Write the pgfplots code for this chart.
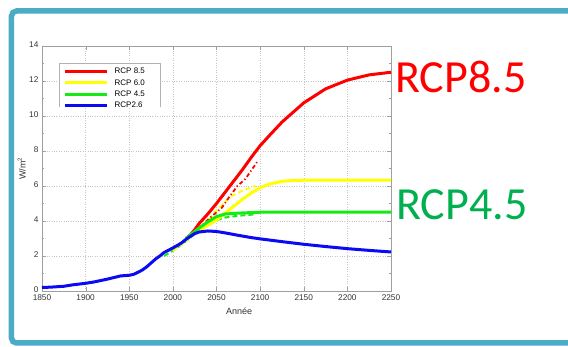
\documentclass[border=0pt]{standalone}
\usepackage{fontspec}
\setmainfont{Liberation Sans}
\newfontfamily\carlito{Carlito}
\usepackage{pgfplots}
\pgfplotsset{compat=1.18}
\definecolor{frame}{RGB}{75,172,198}
\definecolor{cred}{RGB}{255,0,0}
\definecolor{cyel}{RGB}{255,255,0}
\definecolor{cgrn}{RGB}{20,235,20}
\definecolor{cblu}{RGB}{10,10,245}
\definecolor{tgrn}{RGB}{0,176,80}
\begin{document}
\begin{tikzpicture}
\begin{axis}[
  name=main,
  scale only axis, width=349pt, height=245pt,
  xmin=1850, xmax=2250, ymin=0, ymax=14,
  xtick={1850,1900,...,2250}, ytick={0,2,...,14},
  minor y tick num=1,
  tick align=inside, major tick length=4pt, minor tick length=2.5pt,
  grid=major, major grid style={gray!45, dotted, line width=0.5pt},
  axis line style={gray!75, line width=0.6pt}, tick style={gray!75},
  tick label style={font=\fontsize{8.3}{9}\selectfont, text=black!80},
  yticklabel style={yshift=1pt},
  /pgf/number format/assume math mode=true,
  /pgf/number format/1000 sep={},
  xlabel={Année}, ylabel={W/m\textsuperscript{2}},
  label style={font=\fontsize{9}{10}\selectfont, text=black!80},
  xlabel style={at={(axis description cs:0.565,-0.084)}, anchor=center},
  ylabel style={at={(axis description cs:-0.058,0.5)}, anchor=center},
  legend style={at={(axis description cs:0.0501,0.9306)}, anchor=north west, draw=none, fill=none,
    font=\fontsize{8}{9}\selectfont, inner xsep=4pt, inner ysep=3.6pt, row sep=1.8pt,
    nodes={inner sep=1pt, text height=6pt, text depth=1.5pt},
    /tikz/every odd column/.append style={column sep=5pt}},
  legend cell align=left,
  legend image code/.code={\draw[#1, line width=3pt] (0pt,0pt) -- (42pt,0pt);},
]
% legend box (open at the bottom)
\fill[white] (axis description cs:0.0501,0.751) rectangle (axis description cs:0.3395,0.9306);
\draw[gray!60, line width=0.6pt] (axis description cs:0.0501,0.751) -- (axis description cs:0.0501,0.9306) -- (axis description cs:0.3395,0.9306) -- (axis description cs:0.3395,0.751);
% second-model dashed curves
\addplot[cgrn, line width=2pt, dash pattern=on 5pt off 3pt, forget plot] coordinates {
(1990,2.0) (2000,2.3) (2010,2.65) (2020,3.05) (2030,3.45) (2040,3.8) (2050,4.05) (2060,4.2) (2075,4.3) (2095,4.38)};
\addplot[cyel, line width=2pt, dash pattern=on 5pt off 3pt, forget plot] coordinates {
(2000,2.3) (2010,2.65) (2020,3.05) (2035,3.7) (2050,4.6) (2065,5.35) (2080,5.75) (2095,6.0)};
\addplot[cred, line width=1.8pt, dash pattern=on 4pt off 2.5pt on 1.2pt off 2.5pt, forget plot] coordinates {
(2020,3.2) (2027,3.45) (2043,4.2) (2056,4.75) (2065,5.4) (2074,6.0) (2083,6.4) (2090,6.9) (2097,7.4)};
% main curves
\addplot[cred, line width=3pt] coordinates {
(2015,3.0) (2020,3.2) (2025,3.5) (2030,3.85) (2040,4.4) (2050,5.0) (2060,5.65) (2070,6.3) (2080,6.95) (2090,7.65) (2100,8.3) (2110,8.85) (2125,9.65) (2150,10.75) (2175,11.55) (2200,12.05) (2225,12.35) (2250,12.5)};
\addlegendentry{RCP 8.5}
\addplot[cyel, line width=3pt] coordinates {
(2015,3.0) (2025,3.3) (2035,3.6) (2050,4.05) (2060,4.45) (2070,4.85) (2080,5.25) (2090,5.6) (2100,5.9) (2110,6.1) (2125,6.27) (2140,6.32) (2150,6.33) (2250,6.33)};
\addlegendentry{RCP 6.0}
\addplot[cgrn, line width=3pt] coordinates {
(2015,3.0) (2020,3.2) (2030,3.6) (2040,3.95) (2050,4.25) (2060,4.4) (2075,4.45) (2100,4.5) (2150,4.51) (2250,4.51)};
\addlegendentry{RCP 4.5}
\addplot[cblu, line width=3pt] coordinates {
(1850,0.2) (1860,0.22) (1875,0.27) (1885,0.35) (1900,0.44) (1910,0.52) (1925,0.68) (1935,0.8) (1940,0.86) (1950,0.9) (1955,0.95) (1960,1.07) (1965,1.2) (1970,1.38) (1975,1.6) (1980,1.82) (1985,2.0) (1990,2.2) (1995,2.33) (2000,2.46) (2005,2.6) (2010,2.75) (2015,2.95) (2020,3.12) (2025,3.28) (2030,3.37) (2040,3.43) (2050,3.4) (2060,3.32) (2075,3.18) (2090,3.05) (2100,2.98) (2125,2.82) (2150,2.67) (2175,2.54) (2200,2.42) (2225,2.32) (2250,2.23)};
\addlegendentry{RCP2.6}
\end{axis}
% page = 568 x 347 px, axis box south west at (42px, 56px from bottom)
\begin{scope}[shift={(-42pt,-56pt)}, x=1pt, y=1pt]
\draw[frame, line width=5.5pt, rounded corners=5pt] (570,336) -- (11.5,336) -- (11.5,4) -- (570,4);
\node[anchor=base west, inner sep=0pt, text=cred, font=\carlito\fontsize{46}{46}\selectfont] at (395,254) {RCP8.5};
\node[anchor=base west, inner sep=0pt, text=tgrn, font=\carlito\fontsize{46}{46}\selectfont] at (396,127) {RCP4.5};
\end{scope}
\pgfresetboundingbox
\path[use as bounding box] (-42pt,-56pt) rectangle (526pt,291pt);
\end{tikzpicture}
\end{document}
